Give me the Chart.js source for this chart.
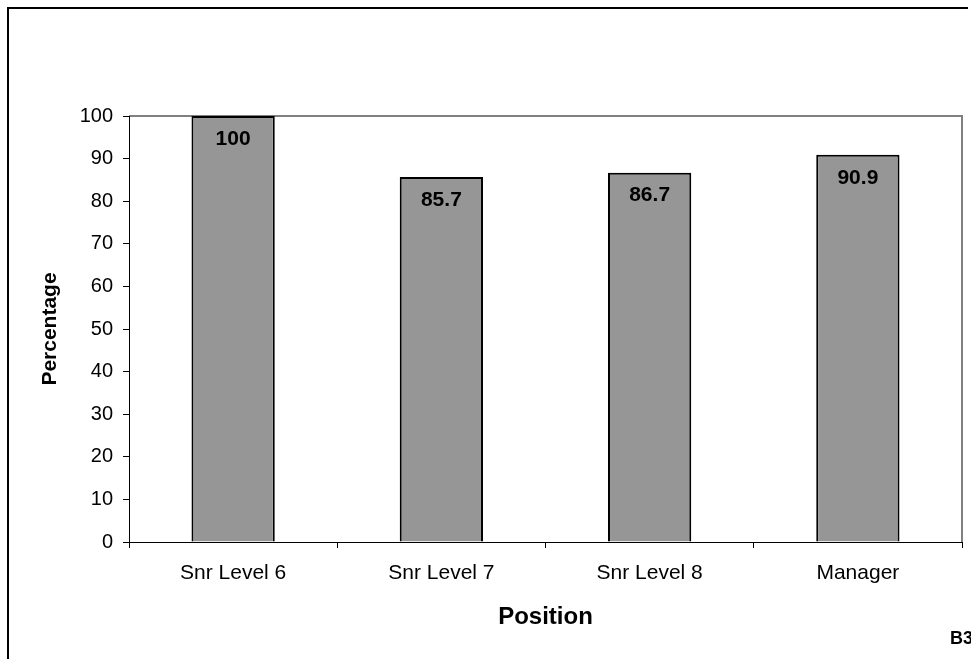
<!DOCTYPE html>
<html>
<head>
<meta charset="UTF-8">
<title>Percentage by Position</title>
<script src="https://cdn.jsdelivr.net/npm/chart.js"></script>
<style>
  html, body { margin:0; padding:0; background:#fff; }
  #wrap { width:971px; height:659px; }
</style>
</head>
<body>
<div id="wrap"><canvas id="posChart" width="971" height="659"></canvas></div>
<script>
// data
const positions = ['Snr Level 6', 'Snr Level 7', 'Snr Level 8', 'Manager'];
const percentages = [100, 85.7, 86.7, 90.9];
const yTickValues = [0, 10, 20, 30, 40, 50, 60, 70, 80, 90, 100];

const FONT = "'Liberation Sans', Arial, sans-serif";

// frame, value labels and the corner tag
const decor = {
  id: 'decor',
  beforeDraw(chart) {
    const c = chart.ctx, a = chart.chartArea;
    c.save();
    c.fillStyle = '#fff';
    c.fillRect(0, 0, chart.width, chart.height);
    // outer border (cut off on the right and bottom)
    c.strokeStyle = '#000';
    c.lineWidth = 2;
    c.beginPath();
    c.moveTo(8, 659); c.lineTo(8, 8); c.lineTo(968, 8);
    c.stroke();
    // grey plot frame
    c.strokeStyle = '#808080';
    c.lineWidth = 2;
    c.beginPath();
    c.moveTo(a.left, a.top); c.lineTo(a.right, a.top); c.lineTo(a.right, a.bottom);
    c.stroke();
    c.restore();
  },
  afterDatasetsDraw(chart) {
    const c = chart.ctx;
    const meta = chart.getDatasetMeta(0);
    c.save();
    c.font = 'bold 21px ' + FONT;
    c.fillStyle = '#000';
    c.textAlign = 'center';
    c.textBaseline = 'middle';
    meta.data.forEach((bar, i) => {
      c.fillText(String(percentages[i]), bar.x, bar.y + 23);
    });
    c.restore();
  },
  afterDraw(chart) {
    const c = chart.ctx;
    c.save();
    c.font = 'bold 18px ' + FONT;
    c.fillStyle = '#000';
    c.textAlign = 'left';
    c.textBaseline = 'middle';
    c.fillText('B3', 950, 639);
    c.restore();
  }
};

new Chart(document.getElementById('posChart'), {
  type: 'bar',
  data: {
    labels: positions,
    datasets: [{
      data: percentages,
      backgroundColor: '#969696',
      borderColor: '#000',
      borderWidth: 2,
      borderSkipped: 'start',
      categoryPercentage: 1,
      barPercentage: 0.4
    }]
  },
  options: {
    responsive: false,
    animation: false,
    layout: { padding: { left: 0, top: 116, right: 9, bottom: 0 } },
    plugins: { legend: { display: false }, tooltip: { enabled: false } },
    scales: {
      x: {
        offset: true,
        grid: { offset: true, drawOnChartArea: false, drawTicks: true, tickLength: 6, color: '#000', lineWidth: 1 },
        border: { display: true, color: '#000', width: 1 },
        ticks: { color: '#000', font: { family: FONT, size: 21 }, padding: 13, maxRotation: 0 },
        title: { display: true, text: 'Position', color: '#000', font: { family: FONT, size: 24, weight: 'bold' }, padding: { top: 0, bottom: 27 } },
        afterFit(scale) { scale.height = 117; }
      },
      y: {
        min: 0,
        max: 100,
        afterBuildTicks(scale) { scale.ticks = yTickValues.map(v => ({ value: v })); },
        grid: { drawOnChartArea: false, drawTicks: true, tickLength: 6, color: '#000', lineWidth: 1 },
        border: { display: true, color: '#000', width: 1 },
        ticks: { color: '#000', font: { family: FONT, size: 20 }, padding: 10 },
        title: { display: true, text: 'Percentage', color: '#000', font: { family: FONT, size: 21, weight: 'bold' }, padding: { top: 38, bottom: 0 } },
        afterFit(scale) { scale.width = 129; }
      }
    }
  },
  plugins: [decor]
});
</script>
</body>
</html>
